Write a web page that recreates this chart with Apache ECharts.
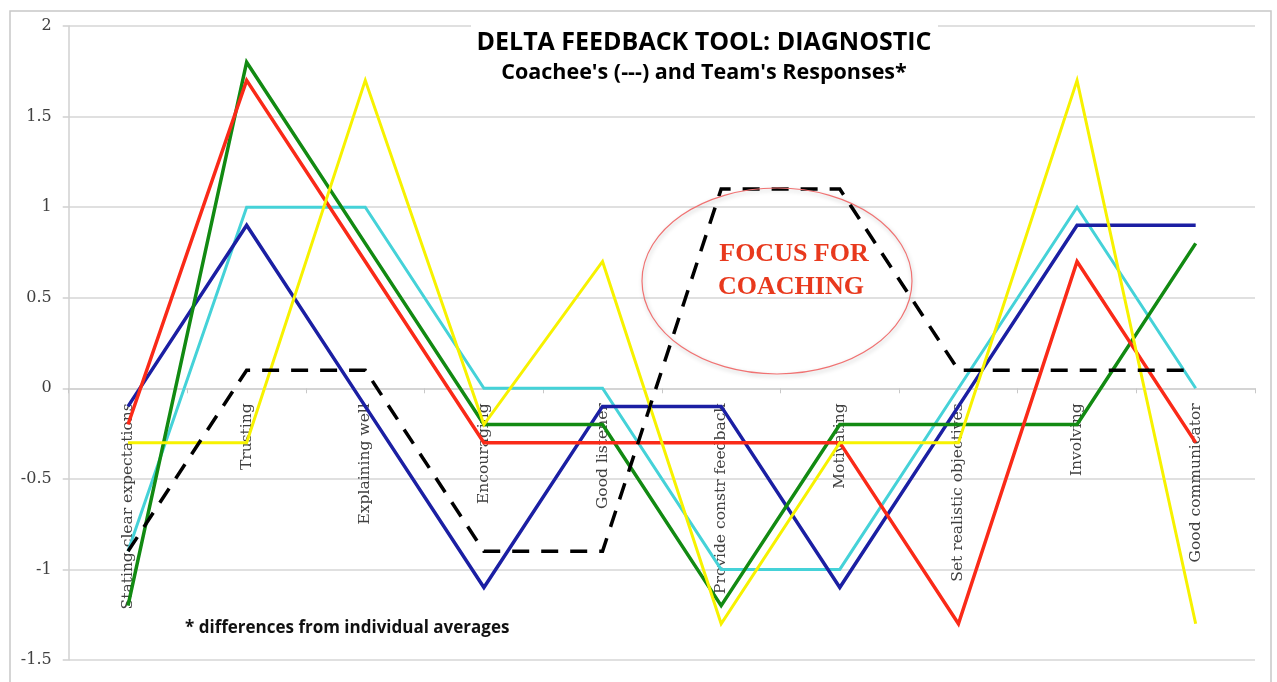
<!DOCTYPE html>
<html>
<head>
<meta charset="utf-8">
<script src="https://cdn.jsdelivr.net/npm/echarts@6/dist/echarts.min.js"></script>
<style>
html,body{margin:0;padding:0;background:#fff;}
#chart{width:1277px;height:682px;}
</style>
</head>
<body>
<div id="chart"></div>
<script>
const categories = ['Stating clear expectations','Trusting','Explaining well','Encouraging','Good listener','Provide constr feedback','Motivating','Set realistic objectives','Involving','Good communicator'];
const yTicks = [-1.5, -1, -0.5, 0, 0.5, 1, 1.5, 2];
const coachee = [-0.9, 0.1, 0.1, -0.9, -0.9, 1.1, 1.1, 0.1, 0.1, 0.1];
const blue    = [-0.1, 0.9, -0.1, -1.1, -0.1, -0.1, -1.1, -0.1, 0.9, 0.9];
const red     = [-0.2, 1.7, 0.7, -0.3, -0.3, -0.3, -0.3, -1.3, 0.7, -0.3];
const green   = [-1.2, 1.8, 0.8, -0.2, -0.2, -1.2, -0.2, -0.2, -0.2, 0.8];
const cyan    = [-0.9, 1.0, 1.0, 0.0, 0.0, -1.0, -1.0, 0.0, 1.0, 0.0];
const yellow  = [-0.3, -0.3, 1.7, -0.2, 0.7, -1.3, -0.3, -0.3, 1.7, -1.3];

const titleText = 'DELTA FEEDBACK TOOL: DIAGNOSTIC';
const subtitleText = "Coachee's (---) and Team's Responses*";
const footnoteText = '* differences from individual averages';
const focusLines = ['FOCUS FOR', 'COACHING'];

const W = 1277, H = 682;
const gridTop = 26, gridBottom = 22;
const yMin = yTicks[0], yMax = yTicks[yTicks.length - 1];
const plotH = H - gridTop - gridBottom;
const zeroY = gridTop + plotH * (yMax / (yMax - yMin));
const xAxisOffset = -((H - gridBottom) - zeroY);

const chart = echarts.init(document.getElementById('chart'), null, {renderer: 'canvas'});

function lineSeries(name, data, color, width, z, type) {
  return {
    name, type: 'line', data, symbol: 'none', showSymbol: false, z,
    lineStyle: {color, width, type: type || 'solid', join: 'miter', cap: 'butt'},
    emphasis: {disabled: true}
  };
}

const option = {
  animation: false,
  backgroundColor: '#ffffff',
  grid: {left: 68.7, right: 22, top: gridTop, bottom: gridBottom, containLabel: false, outerBoundsMode: 'none'},
  xAxis: {
    type: 'category',
    data: categories,
    boundaryGap: true,
    position: 'bottom',
    offset: xAxisOffset,
    axisLine: {show: true, onZero: false, lineStyle: {color: '#d0d0d0', width: 1.5}},
    axisTick: {show: true, length: 5, lineStyle: {color: '#c8c8c8', width: 1}},
    axisLabel: {
      rotate: 90, margin: 15, interval: 0, hideOverlap: false,
      fontFamily: 'DejaVu Serif', fontSize: 15.5, color: '#404040'
    },
    splitLine: {show: false}
  },
  yAxis: {
    type: 'value',
    min: yMin, max: yMax, interval: 0.5,
    axisLine: {show: true, lineStyle: {color: '#d0d0d0', width: 1.5}},
    axisTick: {show: true, length: 6, lineStyle: {color: '#d0d0d0', width: 1.5}},
    axisLabel: {margin: 17, fontFamily: 'DejaVu Serif', fontSize: 16, color: '#404040'},
    splitLine: {show: true, lineStyle: {color: '#d6d6d6', width: 1.5}}
  },
  series: [
    lineSeries('Cyan', cyan, '#45d2d8', 3, 2),
    lineSeries('Blue', blue, '#1b1fa3', 3.5, 3),
    lineSeries('Green', green, '#128a12', 3.5, 4),
    lineSeries('Red', red, '#fa2a18', 3.5, 5),
    lineSeries('Yellow', yellow, '#f7f200', 3, 6),
    lineSeries('Coachee', coachee, '#000000', 3.5, 7, [17, 12])
  ],
  graphic: [
    {type: 'rect', shape: {x: 10, y: 11, width: 1261, height: 700}, style: {fill: 'none', stroke: '#c8c8c8', lineWidth: 1.5}, z: 1, silent: true},
    {type: 'rect', shape: {x: 471, y: 22, width: 467, height: 10}, style: {fill: '#ffffff'}, z: 10, silent: true},
    {type: 'text', x: 704, y: 43, style: {text: titleText, fontFamily: 'Open Sans', fontWeight: 'bold', fontSize: 25, fill: '#000', textAlign: 'center', textVerticalAlign: 'middle'}, z: 11, silent: true},
    {type: 'text', x: 704, y: 73, style: {text: subtitleText, fontFamily: 'Open Sans', fontWeight: 'bold', fontSize: 21.5, fill: '#000', textAlign: 'center', textVerticalAlign: 'middle'}, z: 11, silent: true},
    {type: 'text', x: 185, y: 628, style: {text: footnoteText, fontFamily: 'Open Sans', fontWeight: 'bold', fontSize: 17, fill: '#111', textAlign: 'left', textVerticalAlign: 'middle'}, z: 11, silent: true},
    {type: 'ellipse', shape: {cx: 777, cy: 281, rx: 135, ry: 93}, style: {fill: 'none', stroke: '#f07272', lineWidth: 1.2, shadowBlur: 4, shadowColor: 'rgba(0,0,0,0.25)', shadowOffsetX: 1, shadowOffsetY: 2}, z: 8, silent: true},
    {type: 'text', x: 794, y: 254, style: {text: focusLines[0], fontFamily: 'Liberation Serif', fontWeight: 'bold', fontSize: 26, fill: '#e8391d', textAlign: 'center', textVerticalAlign: 'middle'}, z: 11, silent: true},
    {type: 'text', x: 791, y: 287, style: {text: focusLines[1], fontFamily: 'Liberation Serif', fontWeight: 'bold', fontSize: 26, fill: '#e8391d', textAlign: 'center', textVerticalAlign: 'middle'}, z: 11, silent: true}
  ]
};
chart.setOption(option);
</script>
</body>
</html>
